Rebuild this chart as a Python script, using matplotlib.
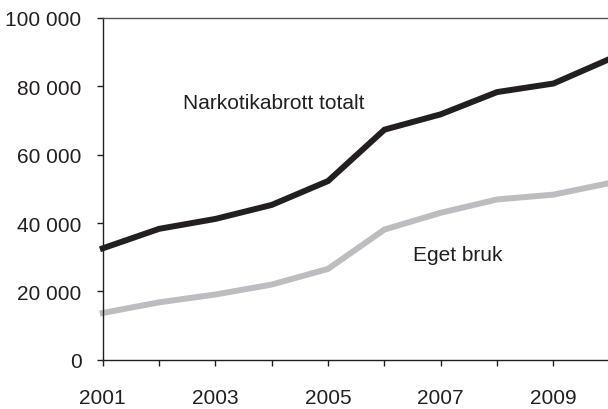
import matplotlib
matplotlib.use("Agg")
import matplotlib.pyplot as plt
from matplotlib.ticker import FuncFormatter

years = [2001, 2002, 2003, 2004, 2005, 2006, 2007, 2008, 2009, 2010]
totalt = [32600, 38300, 41200, 45300, 52300, 67300, 71800, 78300, 80800, 88000]
eget_bruk = [13700, 16800, 19100, 22000, 26600, 38100, 43000, 46900, 48300, 51700]
ytick_vals = [0, 20000, 40000, 60000, 80000, 100000]
xlabel_years = [2001, 2003, 2005, 2007, 2009]

plt.rcParams['font.family'] = ['Liberation Sans', 'DejaVu Sans']

fig = plt.figure(figsize=(6.08, 4.10), dpi=100)
ax = fig.add_axes([0.169, 0.12, 0.834, 0.834])

ax.plot(years, totalt, color='#231f20', lw=4.3, solid_joinstyle='miter', clip_on=False)
ax.plot(years, eget_bruk, color='#bcbdc0', lw=4.3, solid_joinstyle='miter', clip_on=False)

ax.set_xlim(2001, 2010)
ax.set_ylim(0, 100000)
ax.set_yticks(ytick_vals)
ax.yaxis.set_major_formatter(FuncFormatter(lambda v, p: f"{int(v):,}".replace(",", " ")))
ax.set_xticks(years)
ax.set_xticklabels([str(y) if y in xlabel_years else "" for y in years])

ax.spines['right'].set_visible(False)
ax.spines['top'].set_color('#555555')
ax.spines['top'].set_linewidth(1.0)
for s in ['left', 'bottom']:
    ax.spines[s].set_color('#231f20')
    ax.spines[s].set_linewidth(1.0)

ax.tick_params(axis='both', direction='out', length=4.3, width=1.0, color='#231f20',
               labelsize=15, labelcolor='#231f20')
ax.tick_params(axis='x', pad=16)
ax.tick_params(axis='y', pad=11)

ax.text(2002.42, 75300, "Narkotikabrott totalt", fontsize=15, color='#231f20', va='center', ha='left')
ax.text(2006.5, 30800, "Eget bruk", fontsize=15, color='#231f20', va='center', ha='left')

fig.savefig("out.png", dpi=100)
